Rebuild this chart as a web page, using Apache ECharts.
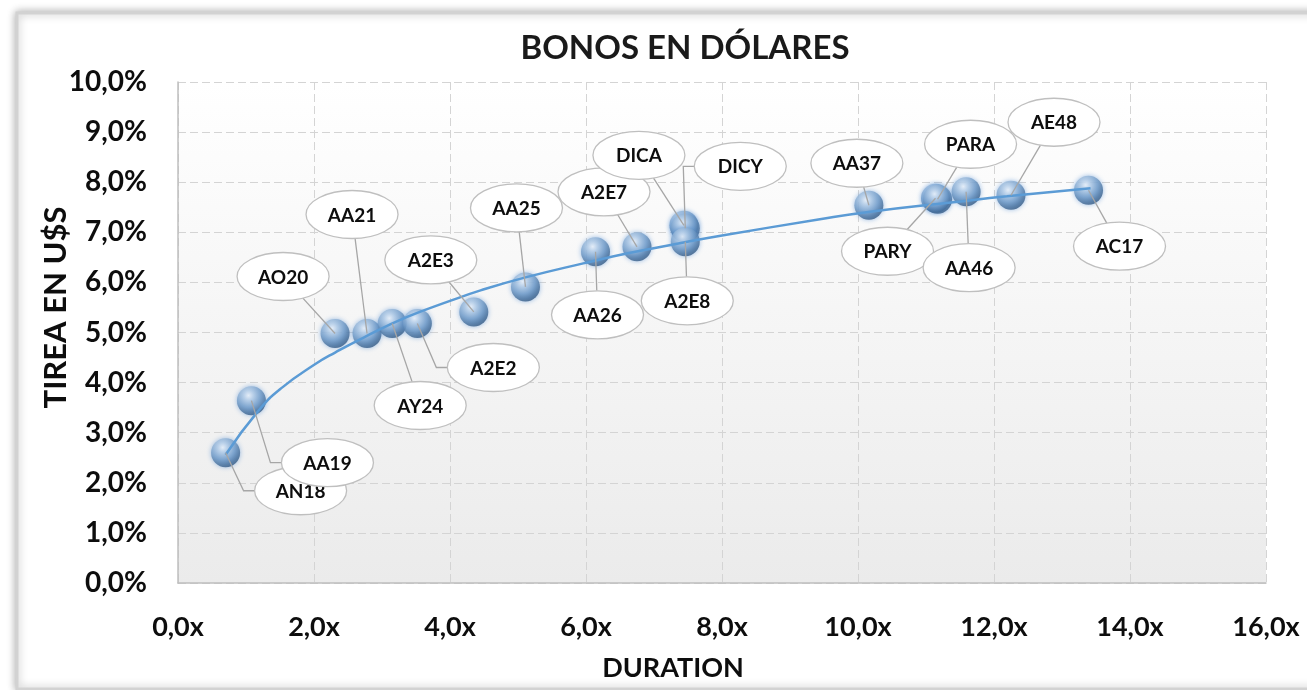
<html>
  <head>
    <script src="https://cdn.jsdelivr.net/npm/echarts@6.0.0/dist/echarts.min.js"></script>
    <title>Bonos en dólares</title>
  </head>
  <body style="margin:0; background-color:#ffffff;">
    <div id="chart" style="width:1307px; height:690px;"></div>
    <script>
      // bond data
      const bondNames = ['AN18', 'AA19', 'AO20', 'AA21', 'AY24', 'A2E2', 'A2E3', 'AA25', 'AA26', 'A2E7',
                         'DICA', 'DICY', 'A2E8', 'AA37', 'PARY', 'PARA', 'AA46', 'AE48', 'AC17'];
      const duration = [0.70, 1.08, 2.31, 2.78, 3.15, 3.52, 4.35, 5.11, 6.14, 6.75,
                        7.44, 7.46, 7.46, 10.16, 11.14, 11.17, 11.59, 12.25, 13.39];
      const tirea = [2.60, 3.64, 4.98, 4.98, 5.18, 5.18, 5.41, 5.91, 6.61, 6.71,
                     7.14, 7.08, 6.81, 7.54, 7.68, 7.66, 7.81, 7.74, 7.84];

      // trend line
      const trendDuration = [0.70, 1.19, 1.53, 2.02, 2.31, 2.73, 3.37, 4.00, 4.45, 5.11,
                             5.96, 6.65, 7.49, 7.98, 9.44, 10.18, 11.40, 12.19, 13.42];
      const trendTirea = [2.56, 3.45, 3.90, 4.37, 4.60, 4.90, 5.31, 5.63, 5.84, 6.10,
                          6.38, 6.59, 6.81, 6.93, 7.26, 7.41, 7.60, 7.72, 7.88];

      // callout placement (px from the point), elbow = leader with horizontal stub
      const labelOffsets = [
        [75, 38, true], [76, 62, true], [-52, -57], [-15, -119], [28, 82], [76, 44, true],
        [-43, -52], [-9, -79], [2, 63], [-33, -55], [-45, -70], [55, -62, true], [2, 59],
        [-12, -42], [-48, 53], [33, -55], [3, 76], [43, -73], [31, 56]
      ];

      const fmt = (v, suffix) => v.toFixed(1).replace('.', ',') + suffix;
      const chart = echarts.init(document.getElementById('chart'));
      const font = 'Lato';
      const rx = 46, ry = 24;

      const ballColor = new echarts.graphic.RadialGradient(0.4, 0.32, 0.7, [
        { offset: 0, color: '#f6f9fd' },
        { offset: 0.25, color: '#bcd2e9' },
        { offset: 0.6, color: '#759ec9' },
        { offset: 0.85, color: '#48719d' },
        { offset: 1, color: '#355a83' }
      ]);

      const option = {
        backgroundColor: '#ffffff',
        graphic: [{
          type: 'rect',
          z: -10,
          shape: { x: 17, y: 13, width: 1310, height: 676 },
          style: { fill: '#ffffff', stroke: '#d2d2d2', lineWidth: 3, shadowBlur: 8, shadowColor: 'rgba(0,0,0,0.3)' }
        }],
        title: {
          text: 'BONOS EN DÓLARES',
          left: 680,
          top: 27,
          textAlign: 'center',
          textStyle: { fontFamily: font, fontSize: 33, fontWeight: 'bold', color: '#1a1a1a' }
        },
        grid: {
          left: 178, right: 41, top: 82, bottom: 107,
          show: true,
          borderWidth: 0,
          backgroundColor: new echarts.graphic.LinearGradient(0, 0, 0, 1, [
            { offset: 0, color: '#ffffff' },
            { offset: 1, color: '#ebebeb' }
          ])
        },
        xAxis: {
          type: 'value',
          min: 0, max: 16, interval: 2,
          name: 'DURATION',
          nameLocation: 'middle',
          nameGap: 72,
          nameMoveOverlap: false,
          nameTextStyle: { fontFamily: font, fontSize: 27, fontWeight: 'bold', color: '#0d0d0d', padding: [0, 98, 0, 0] },
          axisLine: { show: true, lineStyle: { color: '#bfbfbf', width: 1.5 } },
          axisTick: { show: false },
          axisLabel: { margin: 31, fontFamily: font, fontSize: 27, fontWeight: 'bold', color: '#0d0d0d', formatter: v => fmt(v, 'x') },
          splitLine: { show: true, lineStyle: { color: '#d4d4d4', type: [8, 4], width: 1 } }
        },
        yAxis: {
          type: 'value',
          min: 0, max: 10, interval: 1,
          name: 'TIREA EN U$S',
          nameLocation: 'middle',
          nameRotate: 90,
          nameGap: 107,
          nameMoveOverlap: false,
          nameTextStyle: { fontFamily: font, fontSize: 31, fontWeight: 'bold', color: '#0d0d0d', padding: [0, 0, 0, 50] },
          axisLine: { show: true, lineStyle: { color: '#bfbfbf', width: 1.5 } },
          axisTick: { show: false },
          axisLabel: { margin: 31, fontFamily: font, fontSize: 28, fontWeight: 'bold', color: '#0d0d0d', formatter: v => fmt(v, '%') },
          splitLine: { show: true, lineStyle: { color: '#d4d4d4', type: [8, 4], width: 1 } }
        },
        series: [
          {
            type: 'scatter',
            z: 2,
            symbol: 'circle',
            symbolSize: 29,
            itemStyle: { color: ballColor, shadowBlur: 5, shadowColor: 'rgba(80,140,210,0.7)' },
            data: duration.map((d, i) => [d, tirea[i]])
          },
          {
            type: 'line',
            z: 3,
            smooth: true,
            showSymbol: false,
            lineStyle: { color: '#5b9bd5', width: 2.5 },
            data: trendDuration.map((d, i) => [d, trendTirea[i]])
          },
          {
            type: 'custom',
            z: 4,
            data: duration.map((d, i) => [d, tirea[i]]),
            encode: { x: 0, y: 1 },
            renderItem: (params, api) => {
              const i = params.dataIndex;
              const p = api.coord([api.value(0), api.value(1)]);
              const off = labelOffsets[i];
              const cx = p[0] + off[0], cy = p[1] + off[1];
              let pts;
              if (off[2]) {
                pts = [p, [cx - rx - 11, cy], [cx - rx, cy]];
              } else {
                const dx = p[0] - cx, dy = p[1] - cy;
                const t = 1 / Math.sqrt((dx / rx) * (dx / rx) + (dy / ry) * (dy / ry));
                pts = [p, [cx + dx * t, cy + dy * t]];
              }
              return {
                type: 'group',
                children: [
                  { type: 'polyline', shape: { points: pts }, style: { stroke: '#a6a6a6', lineWidth: 1.3, fill: null } },
                  { type: 'ellipse', shape: { cx: cx, cy: cy, rx: rx, ry: ry }, style: { fill: '#ffffff', stroke: '#bfbfbf', lineWidth: 1.3 } },
                  { type: 'text', style: { text: bondNames[i], x: cx, y: cy + 1, align: 'center', verticalAlign: 'middle',
                      fontFamily: font, fontSize: 19, fontWeight: 'bold', fill: '#0d0d0d' } }
                ]
              };
            }
          }
        ]
      };

      chart.setOption(option);
    </script>
  </body>
</html>
